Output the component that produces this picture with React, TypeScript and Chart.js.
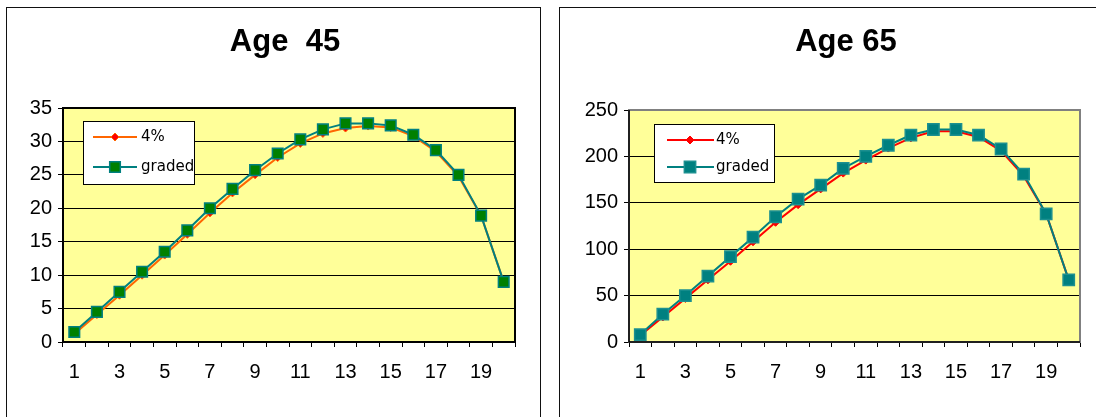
import React, { useEffect, useRef } from "react";
import { Chart, registerables } from "chart.js";

Chart.register(...registerables);

// ---- data ----
const categories = ["1", "2", "3", "4", "5", "6", "7", "8", "9", "10", "11", "12", "13", "14", "15", "16", "17", "18", "19", "20"];

const age45Rate4 = [1.2, 4.1, 7.0, 10.0, 13.0, 16.1, 19.3, 22.3, 25.0, 27.6, 29.7, 31.2, 32.0, 32.3, 32.1, 30.8, 28.5, 24.8, 18.9, 9.0];
const age45Graded = [1.5, 4.5, 7.5, 10.5, 13.5, 16.7, 20.0, 22.9, 25.7, 28.2, 30.3, 31.8, 32.7, 32.7, 32.4, 31.0, 28.7, 25.0, 18.9, 9.0];

const age65Rate4 = [7, 27, 47, 67, 87, 108, 129, 148, 165, 182, 196, 209, 220, 227, 227, 221, 206, 179, 138, 67];
const age65Graded = [8, 30, 50, 71, 92, 113, 135, 154, 169, 187, 200, 212, 223, 229, 229, 223, 208, 181, 138, 67];

const seriesNames = ["4%", "graded"];
const age45Title = "Age  45";
const age65Title = "Age 65";
const age45YMax = 35;
const age45YStep = 5;
const age65YMax = 250;
const age65YStep = 50;

// ---- styles ----
const AXIS_FONT = '"Liberation Sans", Arial, sans-serif';

function drawMarker(ctx: CanvasRenderingContext2D, style: string, x: number, y: number, r: number, fill: string, stroke: string, bw: number) {
  ctx.save();
  ctx.beginPath();
  if (style === "rect") {
    const s = Math.SQRT1_2 * r;
    ctx.rect(x - s, y - s, 2 * s, 2 * s);
  } else {
    ctx.moveTo(x, y - r);
    ctx.lineTo(x + r, y);
    ctx.lineTo(x, y + r);
    ctx.lineTo(x - r, y);
    ctx.closePath();
  }
  ctx.fillStyle = fill;
  ctx.fill();
  ctx.lineWidth = bw;
  ctx.strokeStyle = stroke;
  ctx.stroke();
  ctx.restore();
}

const framePlugin = {
  id: "plotFrame",
  beforeDraw(chart: any, _a: any, o: any) {
    const { ctx, chartArea } = chart;
    const { left, top, right, bottom } = chartArea;
    ctx.save();
    ctx.fillStyle = o.bg;
    ctx.fillRect(left, top, right - left, bottom - top);
    ctx.restore();
  },
  beforeDatasetsDraw(chart: any, _a: any, o: any) {
    const { ctx, chartArea } = chart;
    const { left, top, right, bottom } = chartArea;
    ctx.save();
    ctx.strokeStyle = o.frameColor;
    ctx.lineWidth = o.frameWidth;
    ctx.strokeRect(left, top, right - left, bottom - top);
    ctx.strokeStyle = o.axisColor;
    ctx.lineWidth = o.axisWidth;
    ctx.beginPath();
    ctx.moveTo(left, top);
    ctx.lineTo(left, bottom);
    ctx.lineTo(right, bottom);
    ctx.stroke();
    ctx.restore();
  },
};

const titlePlugin = {
  id: "panelTitle",
  afterDraw(chart: any, _a: any, o: any) {
    const { ctx } = chart;
    ctx.save();
    ctx.font = `bold ${o.size}px ${AXIS_FONT}`;
    ctx.fillStyle = "#000";
    ctx.textAlign = "center";
    ctx.textBaseline = "alphabetic";
    ctx.fillText(o.text, o.x, o.y);
    ctx.restore();
  },
};

const legendPlugin = {
  id: "boxLegend",
  afterDraw(chart: any, _a: any, o: any) {
    const { ctx } = chart;
    const [bx, by, bw, bh] = o.box;
    ctx.save();
    ctx.fillStyle = "#fff";
    ctx.fillRect(bx, by, bw, bh);
    ctx.strokeStyle = "#000";
    ctx.lineWidth = 1;
    ctx.strokeRect(bx + 0.5, by + 0.5, bw, bh);
    const datasets = chart.data.datasets;
    o.rows.forEach((ry: number, i: number) => {
      const ds = datasets[i];
      ctx.strokeStyle = ds.borderColor;
      ctx.lineWidth = 2;
      ctx.beginPath();
      ctx.moveTo(o.lineX[0], ry);
      ctx.lineTo(o.lineX[1], ry);
      ctx.stroke();
      drawMarker(ctx, ds.pointStyle, o.markerX, ry, ds.pointRadius, ds.pointBackgroundColor, ds.pointBorderColor, ds.pointBorderWidth);
      ctx.fillStyle = "#000";
      ctx.font = `15px "DejaVu Sans", sans-serif`;
      ctx.textAlign = "left";
      ctx.textBaseline = "middle";
      ctx.fillText(ds.label, o.textX, ry);
    });
    ctx.restore();
  },
};

type PanelCfg = {
  title: string;
  rate4: number[];
  graded: number[];
  yMax: number;
  yStep: number;
  yWidth: number;
  padRight: number;
  padTop: number;
  rateLine: string;
  rateFill: string;
  rateBorder: string;
  gradedFill: string;
  gradedBorder: string;
  squareR: number;
  frameColor: string;
  frameWidth: number;
  titleX: number;
  legend: any;
};

function makeConfig(p: PanelCfg): any {
  return {
    type: "line",
    data: {
      labels: categories,
      datasets: [
        {
          label: seriesNames[0],
          data: p.rate4,
          borderColor: p.rateLine,
          borderWidth: 2,
          pointStyle: "rectRot",
          pointRadius: 4,
          pointBackgroundColor: p.rateFill,
          pointBorderColor: p.rateBorder,
          pointBorderWidth: 1,
          tension: 0,
          fill: false,
          order: 1,
        },
        {
          label: seriesNames[1],
          data: p.graded,
          borderColor: "#008080",
          borderWidth: 2,
          pointStyle: "rect",
          pointRadius: p.squareR,
          pointBackgroundColor: p.gradedFill,
          pointBorderColor: p.gradedBorder,
          pointBorderWidth: 1.5,
          tension: 0,
          fill: false,
          order: 0,
        },
      ],
    },
    options: {
      responsive: false,
      animation: false,
      events: [],
      layout: { padding: { left: 0, right: p.padRight, top: p.padTop, bottom: 0 } },
      scales: {
        x: {
          type: "category",
          offset: true,
          grid: { offset: true, drawOnChartArea: false, drawTicks: true, tickLength: 5, color: "#000", lineWidth: 1 },
          border: { display: false },
          ticks: {
            autoSkip: false,
            maxRotation: 0,
            minRotation: 0,
            padding: 13,
            color: "#000",
            font: { family: AXIS_FONT, size: 20 },
            callback: (_v: any, i: number) => (i % 2 === 0 ? categories[i] : ""),
          },
          afterFit: (s: any) => {
            s.height = 75;
          },
        },
        y: {
          min: 0,
          max: p.yMax,
          grid: { color: "#000", lineWidth: 1, drawTicks: true, tickLength: 5 },
          border: { display: false },
          ticks: {
            stepSize: p.yStep,
            padding: 6,
            color: "#000",
            font: { family: AXIS_FONT, size: 20 },
          },
          afterFit: (s: any) => {
            s.width = p.yWidth;
          },
        },
      },
      plugins: {
        legend: { display: false },
        title: { display: false },
        tooltip: { enabled: false },
        plotFrame: { bg: "#FFFF99", frameColor: p.frameColor, frameWidth: p.frameWidth, axisColor: "#000", axisWidth: 1.5 },
        panelTitle: { text: p.title, x: p.titleX, y: 43, size: 31 },
        boxLegend: p.legend,
      },
    },
    plugins: [framePlugin, titlePlugin, legendPlugin],
  };
}

function ChartCanvas({ cfg, width, height }: { cfg: PanelCfg; width: number; height: number }) {
  const ref = useRef<HTMLCanvasElement | null>(null);
  useEffect(() => {
    if (!ref.current) return;
    const chart = new Chart(ref.current, makeConfig(cfg));
    return () => chart.destroy();
  }, []);
  return <canvas ref={ref} width={width} height={height} style={{ display: "block" }} />;
}

const leftCfg: PanelCfg = {
  title: age45Title,
  rate4: age45Rate4,
  graded: age45Graded,
  yMax: age45YMax,
  yStep: age45YStep,
  yWidth: 56,
  padRight: 24,
  padTop: 100,
  rateLine: "#FF6600",
  rateFill: "#FF0000",
  rateBorder: "#FF6600",
  gradedFill: "#008000",
  gradedBorder: "#008080",
  squareR: 7.5,
  frameColor: "#000",
  frameWidth: 2,
  titleX: 278,
  legend: { box: [76, 113, 111, 63], rows: [129, 159], lineX: [86, 130], markerX: 108, textX: 134 },
};

const rightCfg: PanelCfg = {
  title: age65Title,
  rate4: age65Rate4,
  graded: age65Graded,
  yMax: age65YMax,
  yStep: age65YStep,
  yWidth: 69,
  padRight: 16,
  padTop: 102,
  rateLine: "#FF0000",
  rateFill: "#FF0000",
  rateBorder: "#FF0000",
  gradedFill: "#008080",
  gradedBorder: "#1C9090",
  squareR: 8,
  frameColor: "#808080",
  frameWidth: 2,
  titleX: 286,
  legend: { box: [94, 116, 120, 58], rows: [132, 159], lineX: [107, 154], markerX: 130, textX: 156 },
};

export default function App() {
  return (
    <div style={{ position: "fixed", left: 0, top: 0, width: 1096, height: 417, overflow: "hidden", background: "#fff" }}>
      <div style={{ position: "absolute", left: 6, top: 7, width: 535, height: 430, border: "1px solid #111", boxSizing: "border-box" }} />
      <div style={{ position: "absolute", left: 559, top: 7, width: 600, height: 430, border: "1px solid #111", boxSizing: "border-box" }} />
      <div style={{ position: "absolute", left: 7, top: 8 }}>
        <ChartCanvas cfg={leftCfg} width={532} height={409} />
      </div>
      <div style={{ position: "absolute", left: 560, top: 8 }}>
        <ChartCanvas cfg={rightCfg} width={536} height={409} />
      </div>
    </div>
  );
}
